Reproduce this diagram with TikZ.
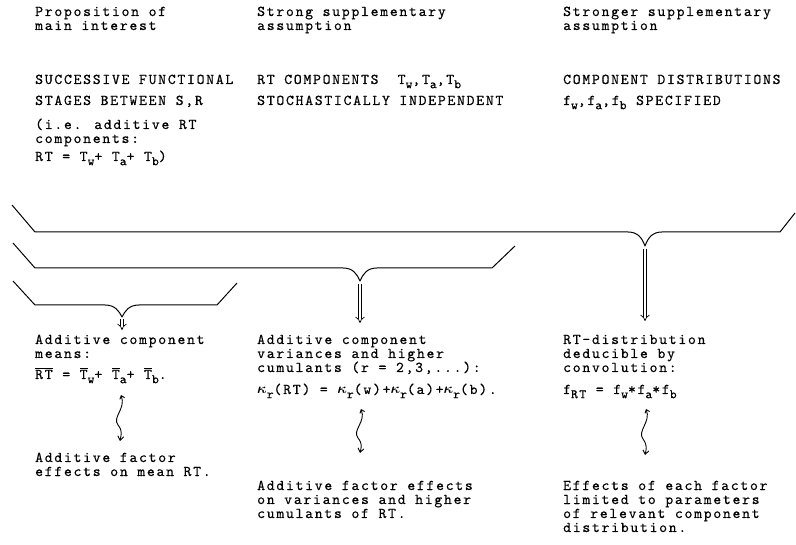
\documentclass[tikz,border=0pt]{standalone}
\usepackage{fontspec}
\newfontfamily\twfont{lmmono10-regular.otf}[LetterSpace=11.5,FakeBold=0.4]
\usetikzlibrary{arrows.meta}
\newcommand{\sbs}[1]{\raisebox{-0.65ex}{\fontsize{13}{13}\selectfont #1}}
\newcommand{\ovl}[1]{\ensuremath{\overline{\mbox{#1}}}}
\newcommand{\kap}{\mbox{\boldmath$\kappa$}}
\begin{document}
\begin{tikzpicture}[x=1pt,y=-1pt,
  txt/.style={anchor=base west, inner sep=0pt, align=left, font=\twfont\fontsize{15}{14}\selectfont},
  brace/.style={line width=1pt, line join=round},
  dbl/.style={double, double distance=2.6pt, line width=0.7pt, -{Implies}},
  wavy/.style={line width=0.9pt, {Straight Barb[length=3pt,width=5pt]}-{Straight Barb[length=4pt,width=6pt]}}]
\useasboundingbox (0,0) rectangle (796,545);

% headings (anchor = baseline of last line)
\node[txt] (h1) at (35,30) {Proposition of\\main interest};
\node[txt] (h2) at (257,30) {Strong supplementary\\assumption};
\node[txt] (h3) at (563,30) {Stronger supplementary\\assumption};

% propositions
\node[txt] (p1) at (35,161) {SUCCESSIVE FUNCTIONAL\\[7pt]STAGES BETWEEN S,R\\[10pt](i.e. additive RT\\components:\\[4pt]RT = T\sbs{w}+ T\sbs{a}+ T\sbs{b})};
\node[txt] (p2) at (257,105) {RT COMPONENTS\ \ T\sbs{w},T\sbs{a},T\sbs{b}\\[7pt]STOCHASTICALLY INDEPENDENT};
\node[txt] (p3) at (563,105) {COMPONENT DISTRIBUTIONS\\[7pt]f\sbs{w},f\sbs{a},f\sbs{b} SPECIFIED};

% consequences
\node[txt] (c1) at (35,379) {Additive component\\means:\\[7pt]\ovl{RT} = \ovl{T}\sbs{w}+ \ovl{T}\sbs{a}+ \ovl{T}\sbs{b}.};
\node[txt] (c2) at (257,394) {Additive component\\variances and higher\\cumulants (r = 2,3,...):\\[8pt]\kap\sbs{r}(RT) = \kap\sbs{r}(w)+\kap\sbs{r}(a)+\kap\sbs{r}(b).};
\node[txt] (c3) at (563,394) {RT-distribution\\deducible by\\convolution:\\[8pt]f\sbs{RT} = f\sbs{w}*f\sbs{a}*f\sbs{b}};

% effects
\node[txt] (e1) at (35,476) {Additive factor\\effects on mean RT.};
\node[txt] (e2) at (257,518) {Additive factor effects\\on variances and higher\\cumulants of RT.};
\node[txt] (e3) at (563,532) {Effects of each factor\\limited to parameters\\of relevant component\\distribution.};

% braces
\coordinate (b1) at (645,246);
\coordinate (b2) at (360,281);
\coordinate (b3) at (122,317);
\draw[brace] (12,205) -- (35,232) -- (628,232) .. controls (638,232) and (642,238) .. (b1)
  .. controls (648,238) and (652,232) .. (662,232) -- (780,232) -- (795,213);
\draw[brace] (13,243) -- (35,268) -- (343,268) .. controls (353,268) and (357,274) .. (b2)
  .. controls (363,274) and (367,268) .. (377,268) -- (492,268) -- (515,246);
\draw[brace] (13,281) -- (35,305) -- (105,305) .. controls (115,305) and (119,311) .. (b3)
  .. controls (125,311) and (129,305) .. (139,305) -- (217,305) -- (237,283);

% double arrows
\coordinate (a1) at (645,321);
\coordinate (a2) at (360,323);
\coordinate (a3) at (122,330);
\draw[dbl] ([yshift=-3pt]b1) -- (a1);
\draw[dbl] ([yshift=-3pt]b2) -- (a2);
\draw[dbl] ([yshift=-2pt]b3) -- (a3);

% wavy two-way arrows
\coordinate (w1t) at (121,395);
\coordinate (w1b) at (120,441);
\coordinate (w2t) at (361,409);
\coordinate (w2b) at (360,453);
\coordinate (w3t) at (646,409);
\coordinate (w3b) at (645,455);
\draw[wavy] (w1t) .. controls (126,409) and (112,417) .. (118,425) .. controls (123,431) and (121,435) .. (w1b);
\draw[wavy] (w2t) .. controls (366,422) and (352,430) .. (358,438) .. controls (363,444) and (361,448) .. (w2b);
\draw[wavy] (w3t) .. controls (651,422) and (637,431) .. (643,439) .. controls (648,446) and (646,450) .. (w3b);
\end{tikzpicture}
\end{document}
